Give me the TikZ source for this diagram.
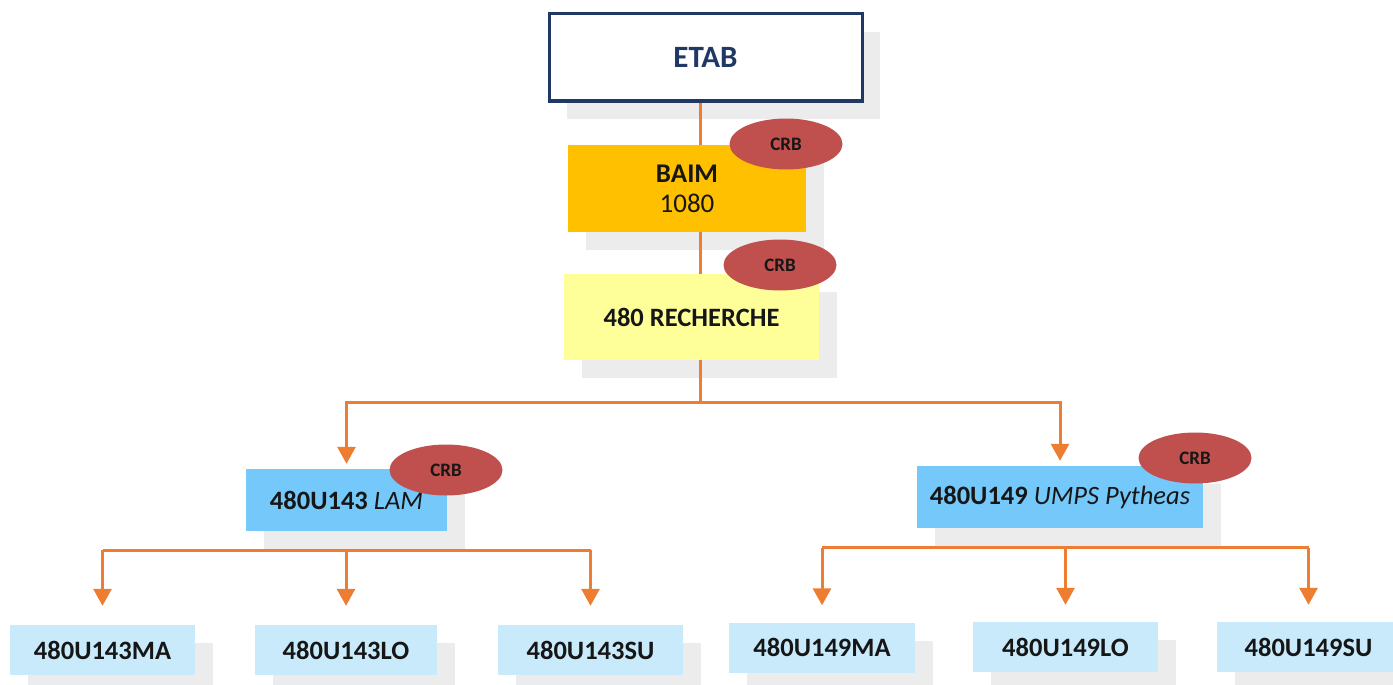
\documentclass[tikz,border=0pt]{standalone}
\usepackage{fontspec}
\setmainfont{Carlito}
\usetikzlibrary{arrows.meta,shadows,shapes.geometric}
\pgfdeclarelayer{back}
\pgfsetlayers{back,main}

\definecolor{navy}{RGB}{31,56,100}
\definecolor{linkorange}{RGB}{237,125,49}
\definecolor{gold}{RGB}{255,192,0}
\definecolor{paleyellow}{RGB}{255,255,153}
\definecolor{midblue}{RGB}{117,200,250}
\definecolor{paleblue}{RGB}{200,234,251}
\definecolor{crbred}{RGB}{192,80,77}
\definecolor{shade}{RGB}{236,236,236}
\definecolor{ink}{RGB}{22,22,22}

\begin{document}
\begin{tikzpicture}[x=1pt,y=-1pt,
  box/.style={rectangle, inner sep=0pt, align=center, text=ink,
    drop shadow={shadow xshift=18pt, shadow yshift=-18pt, fill=shade, opacity=1}},
  unit/.style={box, fill=midblue, minimum height=62pt,
    font=\fontsize{26.5}{30}\selectfont},
  leaf/.style={box, fill=paleblue, minimum height=50pt,
    font=\fontsize{26.5}{30}\selectfont\bfseries},
  crb/.style={ellipse, fill=crbred, inner sep=0pt, minimum width=113pt,
    minimum height=51pt, text=ink, font=\fontsize{19}{22}\selectfont\bfseries},
  link/.style={draw=linkorange, line width=3pt},
  arrow/.style={link, -{Triangle[length=17pt,width=18pt]}}]

\useasboundingbox (0,0) rectangle (1393,685);

% hierarchy boxes
\node[box, draw=navy, line width=3pt, fill=white, minimum width=313pt,
  minimum height=87pt, text=navy, font=\fontsize{31}{36}\selectfont\bfseries]
  (etab) at (705.5,57.5) {ETAB};
\node[box, fill=gold, minimum width=238pt, minimum height=87pt,
  font=\fontsize{27}{31}\selectfont] (baim) at (687,188.5)
  {\textbf{BAIM}\\[-1pt]1080};
\node[box, fill=paleyellow, minimum width=255pt, minimum height=86pt,
  font=\fontsize{26.5}{30}\selectfont\bfseries] (rech) at (691.5,317)
  {480 RECHERCHE};

\node[unit, minimum width=201pt] (lam) at (346.5,500)
  {\textbf{480U143} \textit{LAM}};
\node[unit, minimum width=286pt] (umps) at (1060,497)
  {\textbf{480U149} \textit{UMPS Pytheas}};

\node[leaf, minimum width=185pt] (ma143) at (102.5,650) {480U143MA};
\node[leaf, minimum width=182pt] (lo143) at (346,650) {480U143LO};
\node[leaf, minimum width=185pt] (su143) at (590.5,650) {480U143SU};
\node[leaf, minimum width=186pt] (ma149) at (822,647.5) {480U149MA};
\node[leaf, minimum width=185pt] (lo149) at (1065.5,647) {480U149LO};
\node[leaf, minimum width=183pt] (su149) at (1308.5,647) {480U149SU};

% junction points of the connectors
\coordinate (spine) at (700,402);
\coordinate (lbar) at (347,550);
\coordinate (rbar) at (1066,547.5);

% trunk from the top
\draw[link] (etab.south -| spine) -- (baim.north -| spine);
\draw[link] (baim.south -| spine) -- (rech.north -| spine);
\draw[link] (rech.south -| spine) -- (spine);
\draw[arrow, shorten >=5pt] (spine) -| (lam.north);
\draw[arrow, shorten >=5pt] (spine) -| (umps.north);

% drops from the units, hidden under their shadows
\begin{pgfonlayer}{back}
\draw[link] (lam.south -| lbar) -- (lbar);
\draw[link, shorten >=1.5pt] (umps.south -| rbar) -- (rbar);
\end{pgfonlayer}

% left group
\draw[link] (ma143.north |- lbar) -- (su143.north |- lbar);
\foreach \n in {ma143,lo143,su143}
  \draw[arrow, shorten >=19pt] (\n.north |- lbar) -- (\n.north);

% right group
\draw[link] (ma149.north |- rbar) -- (su149.north |- rbar);
\foreach \n in {ma149,lo149,su149}
  \draw[arrow, shorten >=17pt] (\n.north |- rbar) -- (\n.north);

% CRB badges
\node[crb] (crb1) at (786,144) {CRB};
\node[crb] (crb2) at (780,265) {CRB};
\node[crb] (crb3) at (446,470) {CRB};
\node[crb] (crb4) at (1195,458) {CRB};
\end{tikzpicture}
\end{document}
